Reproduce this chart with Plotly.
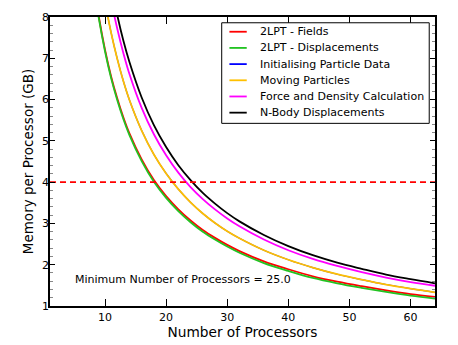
import plotly.graph_objects as go

# Número de procesadores (eje x)
processors = [8, 9, 10, 11, 12, 13, 14, 16, 18, 20, 22, 24, 26, 28, 30,
              32, 36, 40, 44, 48, 52, 56, 60, 64]

# Memoria por procesador (GB)
mem_2lpt_fields = [8.99, 8.00, 7.21, 6.56, 6.03, 5.57, 5.18, 4.55, 4.05, 3.66, 3.34, 3.07,
                   2.84, 2.65, 2.48, 2.33, 2.08, 1.89, 1.72, 1.59, 1.48, 1.38, 1.29, 1.22]
mem_2lpt_disp = [8.95, 7.96, 7.17, 6.52, 5.99, 5.53, 5.14, 4.51, 4.01, 3.62, 3.30, 3.03,
                 2.80, 2.61, 2.44, 2.29, 2.04, 1.85, 1.68, 1.55, 1.44, 1.34, 1.25, 1.18]
mem_init_particles = [10.47, 9.31, 8.38, 7.62, 6.99, 6.45, 5.99, 5.25, 4.67, 4.21, 3.83, 3.51,
                      3.24, 3.01, 2.81, 2.64, 2.35, 2.12, 1.93, 1.77, 1.64, 1.52, 1.42, 1.33]
mem_moving = [10.47, 9.31, 8.38, 7.62, 6.99, 6.45, 5.99, 5.25, 4.67, 4.21, 3.83, 3.51,
              3.24, 3.01, 2.81, 2.64, 2.35, 2.12, 1.93, 1.77, 1.64, 1.52, 1.42, 1.33]
mem_force = [11.55, 10.27, 9.25, 8.41, 7.72, 7.13, 6.62, 5.80, 5.16, 4.65, 4.23, 3.88,
             3.59, 3.34, 3.12, 2.93, 2.61, 2.35, 2.14, 1.97, 1.82, 1.69, 1.58, 1.49]
mem_nbody = [12.05, 10.72, 9.65, 8.78, 8.05, 7.43, 6.91, 6.05, 5.38, 4.85, 4.41, 4.05,
             3.74, 3.48, 3.25, 3.05, 2.72, 2.45, 2.23, 2.05, 1.90, 1.76, 1.65, 1.55]

series_names = ["2LPT - Fields", "2LPT - Displacements", "Initialising Particle Data",
                "Moving Particles", "Force and Density Calculation", "N-Body Displacements"]
series_values = [mem_2lpt_fields, mem_2lpt_disp, mem_init_particles,
                 mem_moving, mem_force, mem_nbody]
series_colors = ["#ff0000", "#22c322", "#0000ff", "#ffc000", "#ff00ff", "#000000"]

memory_limit = 4
x_limits = [1, 64]
min_processors = 25.0

fig = go.Figure()

for name, vals, color in zip(series_names, series_values, series_colors):
    # la curva azul queda tapada por la amarilla (mismos valores)
    width = 1.2 if color == "#0000ff" else 1.8
    fig.add_trace(
        go.Scatter(
            x=processors,
            y=vals,
            mode="lines",
            name=name,
            showlegend=False,
            line=dict(color=color, width=width, shape="spline"),
        )
    )

# Línea límite de memoria
fig.add_trace(
    go.Scatter(
        x=x_limits,
        y=[memory_limit, memory_limit],
        mode="lines",
        showlegend=False,
        line=dict(color="#ff0000", width=1.6, dash="6px,4px"),
    )
)

fig.add_annotation(
    x=4.8,
    y=1.63,
    xref="x",
    yref="y",
    text=f"Minimum Number of Processors = {min_processors}",
    showarrow=False,
    xanchor="left",
    yanchor="middle",
    font=dict(size=11, color="black"),
)

# Leyenda dibujada a mano (filas más juntas que la leyenda de plotly)
fig.add_shape(
    type="rect", xref="paper", yref="paper",
    x0=0.446, x1=0.985, y0=0.632, y1=0.980,
    line=dict(color="black", width=1), fillcolor="white", layer="above",
)
row_top = 0.949
row_step = 0.056
for i, (name, color) in enumerate(zip(series_names, series_colors)):
    y_row = row_top - i * row_step
    fig.add_shape(
        type="line", xref="paper", yref="paper",
        x0=0.466, x1=0.511, y0=y_row, y1=y_row,
        line=dict(color=color, width=1.8), layer="above",
    )
    fig.add_annotation(
        x=0.541, y=y_row, xref="paper", yref="paper",
        text=name, showarrow=False, xanchor="left", yanchor="middle",
        font=dict(size=11, color="black"),
    )

axis_common = dict(
    showgrid=False,
    zeroline=False,
    showline=True,
    automargin=False,
    linecolor="black",
    linewidth=1.5,
    mirror="ticks",
    ticks="inside",
    tickcolor="black",
    tickfont=dict(size=11, color="black"),
)

# la página tiene 8px de margen en body: se compensa en width/height y márgenes
fig.update_layout(
    width=450,
    height=337,
    margin=dict(l=42, r=23, t=9, b=39),
    plot_bgcolor="white",
    paper_bgcolor="white",
    font=dict(family="DejaVu Sans", color="black"),
    showlegend=False,
    xaxis=dict(
        range=x_limits,
        tickvals=[10, 20, 30, 40, 50, 60],
        ticklen=7,
        title=dict(text="Number of Processors", font=dict(size=13.7), standoff=2),
        **axis_common,
    ),
    yaxis=dict(
        range=[1, 8],
        dtick=1,
        ticklen=5,
        ticklabelstandoff=-3,
        title=dict(text="Memory per Processor (GB)", font=dict(size=13.5), standoff=5),
        minor=dict(ticks="inside", ticklen=3, dtick=0.2, tickcolor="#888888"),
        **axis_common,
    ),
)

fig.write_html("out.html")
